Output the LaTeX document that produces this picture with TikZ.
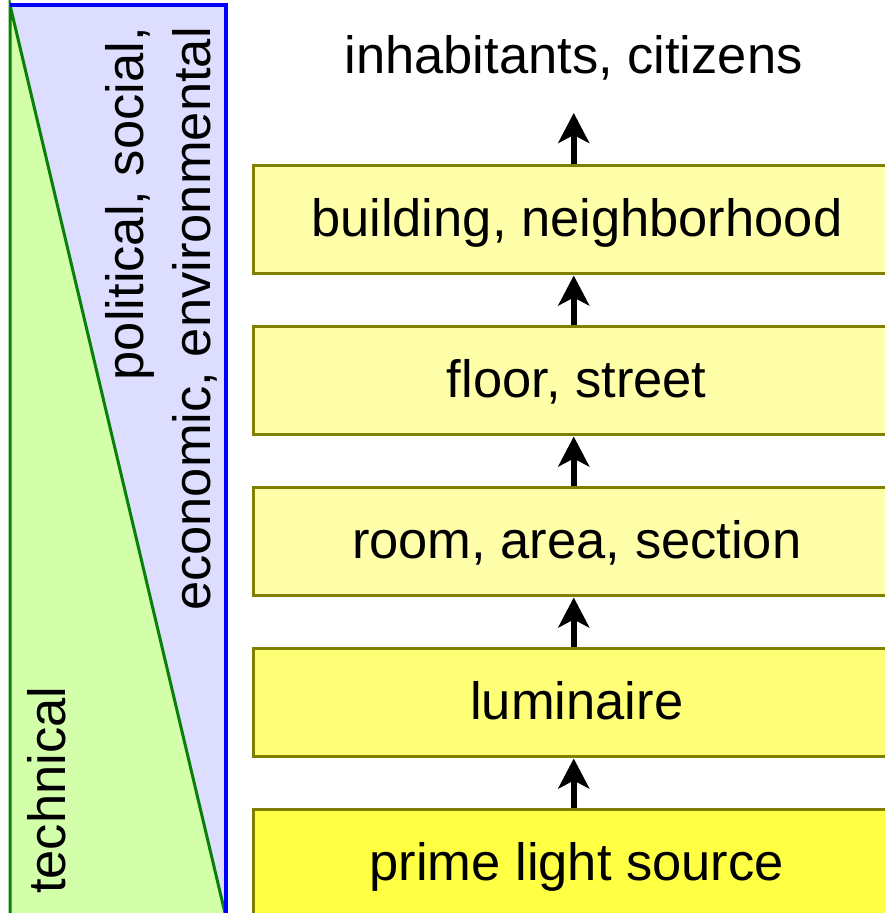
\documentclass[tikz,border=0pt]{standalone}
\usepackage{fontspec}
\setmainfont{Liberation Sans}
\usetikzlibrary{arrows.meta}
\definecolor{boxline}{HTML}{808000}
\definecolor{paleyellow}{HTML}{FFFFAA}
\definecolor{midyellow}{HTML}{FFFF77}
\definecolor{deepyellow}{HTML}{FFFF44}
\definecolor{paleblue}{HTML}{DDDDFF}
\definecolor{palegreen}{HTML}{D4FFAA}
\definecolor{edgegreen}{HTML}{0A800A}
\definecolor{edgeblue}{HTML}{0000FF}
\begin{document}
\begin{tikzpicture}[x=1pt,y=1pt,
  font=\fontsize{52.5}{63}\selectfont,
  stage/.style={draw=boxline, line width=3pt, minimum width=646.5pt,
    minimum height=108pt, text height=36pt, text depth=2pt, inner sep=0pt},
  flow/.style={-{Stealth[length=30pt,width=31pt,inset=8pt]}, line width=5.5pt},
  sidelabel/.style={rotate=90, inner sep=0pt}]
\useasboundingbox (0,0) rectangle (885,913);

% side panel: scale of concerns
\fill[paleblue] (10,908) rectangle (226,-5);
\fill[palegreen] (10,908) -- (225,0) -- (10,0) -- cycle;
\draw[edgegreen, line width=3pt] (10,-5) -- (10,908) -- (225,0);
\draw[edgeblue, line width=3.5pt] (10,908) -- (226,908) -- (226,-5);

\node[sidelabel, anchor=base east] (pol1) at (143,886) {political, social,};
\node[sidelabel, anchor=base east] (pol2) at (210,886) {economic, environmental};
\node[sidelabel, anchor=base west] (tech) at (65,19) {technical};

% stages from light source up to building
\node[stage, fill=paleyellow] (b1) at (576.75,693) {building, neighborhood};
\node[stage, fill=paleyellow] (b2) at (576.75,532) {floor, street};
\node[stage, fill=paleyellow] (b3) at (576.75,371) {room, area, section};
\node[stage, fill=midyellow]  (b4) at (576.75,210) {luminaire};
\node[stage, fill=deepyellow] (b5) at (576.75,49)  {prime light source};

\node[anchor=base, inner sep=0pt] (people) at (573.5,839) {inhabitants, citizens};
\coordinate (apex) at (573.75,800);

\draw[flow] ([xshift=-3pt]b5.north) -- ([xshift=-3pt]b4.south);
\draw[flow] ([xshift=-3pt]b4.north) -- ([xshift=-3pt]b3.south);
\draw[flow] ([xshift=-3pt]b3.north) -- ([xshift=-3pt]b2.south);
\draw[flow] ([xshift=-3pt]b2.north) -- ([xshift=-3pt]b1.south);
\draw[flow] ([xshift=-3pt]b1.north) -- (apex);
\end{tikzpicture}
\end{document}
